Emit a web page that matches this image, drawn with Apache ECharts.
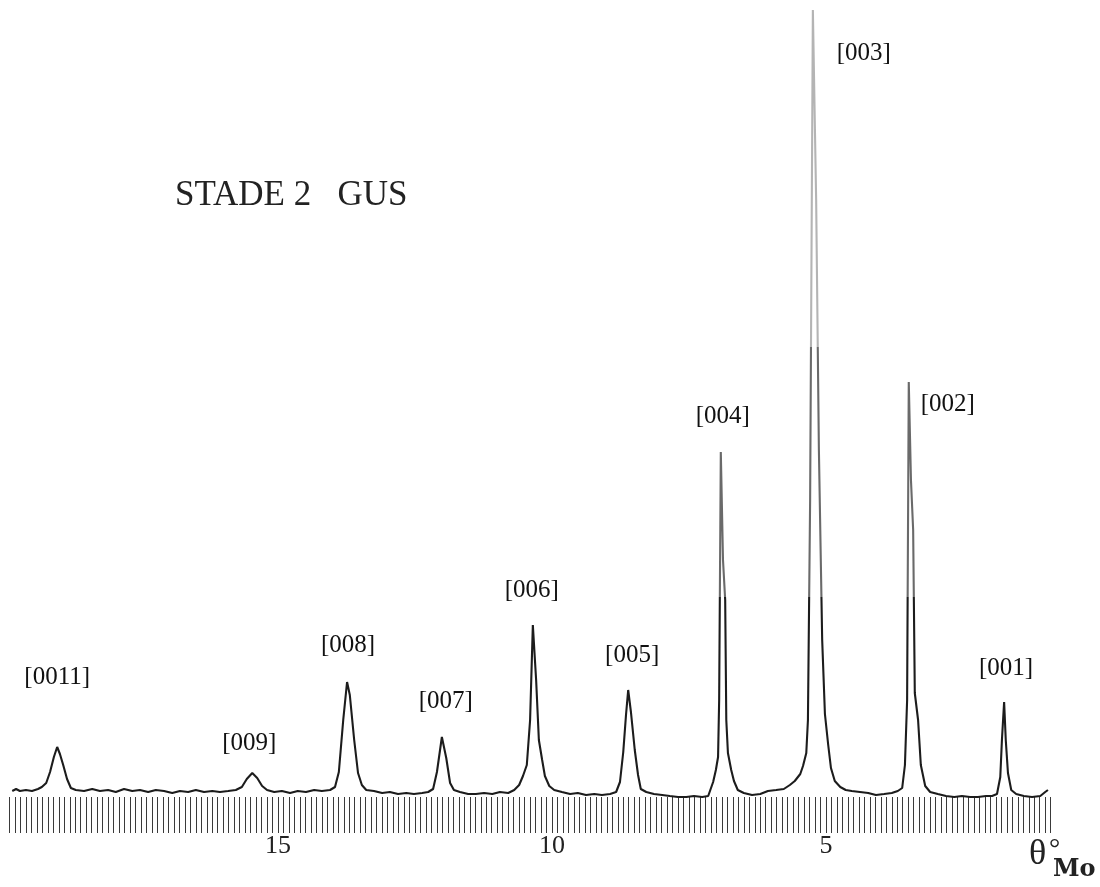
<!DOCTYPE html>
<html>
<head>
<meta charset="utf-8">
<script src="https://cdn.jsdelivr.net/npm/echarts@6/dist/echarts.min.js"></script>
<style>
html,body{margin:0;padding:0;background:#fff;}
#chart{width:1100px;height:887px;}
</style>
</head>
<body>
<div id="chart"></div>
<script>
// θ (degrees, Mo Kα) of the recorded trace
const thetaValues = [
19.85,19.78,19.71,19.60,19.49,19.38,19.31,19.23,19.16,19.09,
19.03,18.98,18.92,18.85,18.78,18.69,18.54,18.39,18.25,18.10,
17.96,17.81,17.66,17.52,17.37,17.23,17.08,16.93,16.79,16.64,
16.50,16.35,16.20,16.06,15.91,15.77,15.66,15.57,15.47,15.38,
15.29,15.20,15.07,14.93,14.78,14.64,14.49,14.34,14.20,14.05,
13.96,13.89,13.81,13.74,13.69,13.61,13.54,13.47,13.39,13.25,
13.10,12.96,12.81,12.66,12.52,12.37,12.26,12.17,12.10,12.01,
11.93,11.86,11.79,11.68,11.53,11.39,11.24,11.09,10.95,10.80,
10.69,10.60,10.53,10.46,10.40,10.35,10.29,10.24,10.18,10.13,
10.05,9.96,9.82,9.67,9.53,9.38,9.23,9.09,8.94,8.83,
8.76,8.70,8.65,8.61,8.56,8.49,8.43,8.38,8.28,8.14,
7.99,7.85,7.70,7.55,7.41,7.26,7.15,7.06,7.01,6.97,
6.95,6.92,6.88,6.84,6.82,6.79,6.73,6.68,6.61,6.50,
6.35,6.20,6.06,5.91,5.77,5.66,5.57,5.47,5.42,5.36,
5.33,5.29,5.24,5.18,5.13,5.07,5.02,4.96,4.91,4.84,
4.74,4.64,4.53,4.38,4.23,4.09,3.94,3.80,3.69,3.61,
3.56,3.52,3.49,3.45,3.41,3.38,3.32,3.27,3.19,3.10,
2.96,2.81,2.66,2.52,2.37,2.23,2.08,1.97,1.88,1.82,
1.79,1.75,1.72,1.68,1.62,1.53,1.39,1.24,1.09,1.00,0.95
];
// intensity (arbitrary units) of the trace
const intensityValues = [
6,8,6,7,6,8,10,14,25,40,
50,43,32,18,9,7,6,8,6,7,
5,8,6,7,5,7,6,4,6,5,
7,5,6,5,6,7,10,18,24,19,
11,7,5,6,4,6,5,7,6,7,
10,25,77,115,102,57,24,12,7,6,
4,5,3,4,3,4,5,8,25,60,
39,14,7,5,3,3,4,3,5,4,
7,12,21,32,77,172,117,57,37,21,
11,7,5,3,4,2,3,2,3,5,
15,45,82,107,85,47,22,8,5,3,
2,1,0,0,1,0,1,15,27,40,
97,345,237,197,77,44,27,16,7,4,
2,3,6,7,8,12,16,23,31,44,
77,297,787,597,347,157,83,52,29,16,
10,7,6,5,4,2,3,4,6,9,
32,97,415,317,267,104,77,32,11,5,
3,1,0,1,0,0,1,1,3,20,
57,95,57,24,7,3,1,0,1,5,7
];
// peak reflections
const peakNames = ['[0011]','[009]','[008]','[007]','[006]','[005]','[004]','[003]','[002]','[001]'];
const peakTheta = [19.03,15.47,13.74,12.01,10.35,8.61,6.92,5.24,3.49,1.75];
const peakTop   = [50,24,115,60,172,107,345,787,415,95];
// axis tick labels shown
const tickLabels = [15,10,5];

// label placement relative to each peak top (pixels) – styling only
const labelOffsets = [[0,-70],[-3,-30],[1,-37],[4,-36],[-1,-35],[4,-35],[2,-36],[51,43],[39,22],[2,-34]];

const chart = echarts.init(document.getElementById('chart'), null, {renderer:'canvas'});
const serif = '"Liberation Serif", "DejaVu Serif", serif';

const trace = thetaValues.map((t,i)=>[t,intensityValues[i]]);
const labelData = peakTheta.map((t,i)=>({
  value:[t,peakTop[i]],
  name: peakNames[i],
  label:{offset: labelOffsets[i]}
}));

chart.setOption({
  backgroundColor:'#ffffff',
  animation:false,
  grid:{left:9.5, right:49.3, top:7, bottom:90, containLabel:false},
  xAxis:{
    type:'value', inverse:true, min:0.9, max:19.9, interval:0.1,
    axisLine:{show:false},
    splitLine:{show:false},
    axisTick:{show:true, length:36, lineStyle:{color:'#3a3a3a', width:1}},
    axisLabel:{
      show:true, margin:36, fontFamily:serif, fontSize:26, color:'#222',
      formatter:function(v){
        const r = Math.round(v);
        if (Math.abs(v-r) < 1e-6 && tickLabels.indexOf(r) >= 0) return String(r);
        return '';
      }
    }
  },
  yAxis:{type:'value', min:0, max:790, show:false, splitLine:{show:false}},
  visualMap:{
    type:'piecewise', show:false, dimension:1, seriesIndex:0,
    pieces:[
      {lt:200, color:'#1c1c1c'},
      {gte:200, lt:450, color:'#6a6a6a'},
      {gte:450, color:'#b4b4b4'}
    ]
  },
  series:[
    {
      type:'line', data:trace, showSymbol:false, smooth:false,
      lineStyle:{width:2.1},
      clip:false, z:3
    },
    {
      type:'scatter', data:labelData, symbolSize:1,
      itemStyle:{color:'transparent'},
      label:{show:true, position:'inside', formatter:'{b}', fontFamily:serif, fontSize:25, color:'#111', opacity:1},
      emphasis:{disabled:true},
      silent:true, z:4
    }
  ],
  graphic:[
    {type:'text', left:175, top:178, style:{text:'STADE 2   GUS', font:'35px "Liberation Serif", serif', fill:'#222'}},
    {type:'text', x:1029, y:855, style:{text:'θ', font:'36px "Liberation Serif", serif', fill:'#222', textVerticalAlign:'middle'}},
    {type:'text', x:1049, y:850, style:{text:'°', font:'28px "Liberation Serif", serif', fill:'#222', textVerticalAlign:'middle'}},
    {type:'text', x:1053, y:870, style:{text:'Mo', font:'bold 24px "DejaVu Serif", serif', fill:'#222', textVerticalAlign:'middle'}}
  ]
});
</script>
</body>
</html>
